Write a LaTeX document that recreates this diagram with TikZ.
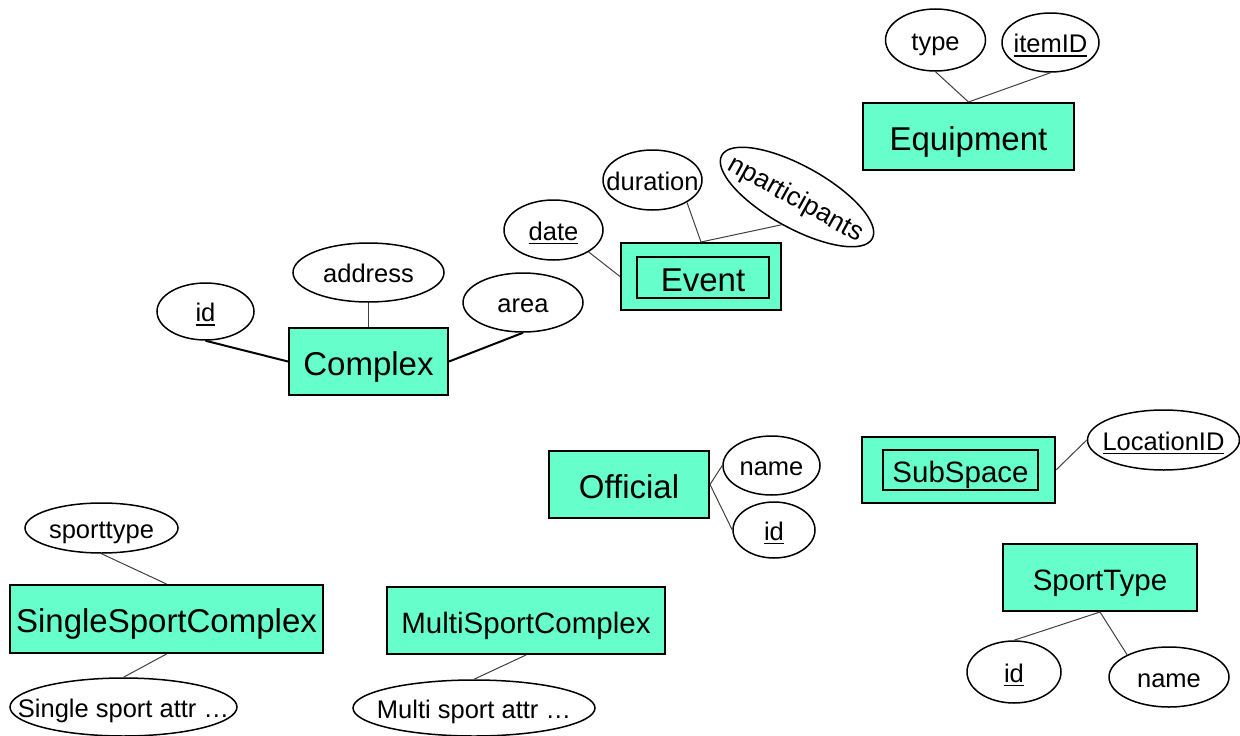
\documentclass[tikz,border=0pt]{standalone}
\usepackage{fontspec}
\setmainfont{Liberation Sans}
\usetikzlibrary{shapes.geometric}
\definecolor{entfill}{HTML}{66FFCC}
% key attribute: text with a thick underline
\newcommand\keyattr[1]{\setbox0\hbox{#1}\rlap{\rule[-4.4pt]{\wd0}{1.6pt}}\box0}
% label that does not widen its ellipse
\newcommand\lbl[1]{\makebox[0pt][c]{#1}}
\begin{document}
\begin{tikzpicture}[x=1pt,y=-1pt,
  entity/.style={draw=black, line width=2pt, fill=entfill, rectangle, inner sep=0pt,
    font=\fontsize{33}{39}\selectfont, text height=27.5pt, text depth=0pt},
  entitysm/.style={entity, font=\fontsize{29.5}{35}\selectfont, text height=25pt, text depth=0pt},
  weakin/.style={draw=black, line width=1.5pt, rectangle, inner sep=0pt},
  attr/.style={draw=black, line width=1.5pt, fill=white, ellipse, inner sep=0pt,
    font=\fontsize{25.5}{30}\selectfont, text height=20pt, text depth=0pt},
  link/.style={draw=black!75, line width=1pt},
  boldlink/.style={draw=black, line width=2pt}]

\useasboundingbox (0,0) rectangle (1240,736);

% Equipment
\node[entity, minimum width=211pt, minimum height=67pt] (equip) at (968.5,136.5) {Equipment};
\node[attr, minimum width=100pt, minimum height=62pt] (type) at (935.5,40) {\lbl{type}};
\node[attr, minimum width=97pt, minimum height=59pt] (itemid) at (1050.5,42.5) {\lbl{\keyattr{itemID}}};

% Event (weak entity)
\node[entity, minimum width=160pt, minimum height=67pt] (event) at (701,276.5) {};
\node[weakin, minimum width=132pt, minimum height=41pt, font=\fontsize{33}{39}\selectfont,
  text height=27.5pt, text depth=0pt] (eventin) at (703,277.5) {Event};
\node[attr, minimum width=99pt, minimum height=60pt] (duration) at (652.5,180) {\lbl{duration}};
\node[attr, minimum width=99pt, minimum height=60pt] (date) at (553.5,230) {\lbl{\keyattr{date}}};
\node[attr, minimum width=172pt, minimum height=62pt, rotate=-29,
  font=\fontsize{26.5}{31}\selectfont, text height=20pt] (npart) at (797,197) {\lbl{nparticipants}};

% Complex
\node[entity, minimum width=159pt, minimum height=67pt] (complex) at (368.5,361.5) {Complex};
\node[attr, minimum width=97pt, minimum height=57pt] (cid) at (205.5,311.5) {\lbl{\keyattr{id}}};
\node[attr, minimum width=151pt, minimum height=59pt] (address) at (368.5,272.5) {\lbl{address}};
\node[attr, minimum width=120pt, minimum height=59pt] (area) at (523,302.5) {\lbl{area}};

% Official
\node[entity, minimum width=160pt, minimum height=67pt] (official) at (629,484.5) {Official};
\node[attr, minimum width=97pt, minimum height=59pt] (offname) at (771.5,465.5) {\lbl{name}};
\node[attr, minimum width=82pt, minimum height=56pt] (offid) at (774,530) {\lbl{\keyattr{id}}};

% SubSpace (weak entity)
\node[entity, minimum width=193pt, minimum height=66pt] (subspace) at (958.5,470) {};
\node[weakin, minimum width=155pt, minimum height=40pt, font=\fontsize{29.5}{35}\selectfont,
  text height=25pt, text depth=0pt] (subspacein) at (960.5,470) {SubSpace};
\node[attr, minimum width=152pt, minimum height=60pt] (locid) at (1163.5,440) {\lbl{\keyattr{LocationID}}};

% SingleSportComplex
\node[entity, minimum width=313pt, minimum height=68pt] (single) at (166.5,619) {SingleSportComplex};
\node[attr, minimum width=153pt, minimum height=50pt] (sporttype) at (101.5,528) {\lbl{sporttype}};
\node[attr, minimum width=227pt, minimum height=58pt] (ssattr) at (123.5,707) {\lbl{Single sport attr …}};

% MultiSportComplex
\node[entitysm, minimum width=278pt, minimum height=67pt] (multi) at (526,620.5) {MultiSportComplex};
\node[attr, minimum width=242pt, minimum height=56pt] (msattr) at (474,708) {\lbl{Multi sport attr …}};

% SportType
\node[entitysm, minimum width=194pt, minimum height=67pt] (sportt) at (1100,577.5) {SportType};
\node[attr, minimum width=94pt, minimum height=62pt] (stid) at (1014,672) {\lbl{\keyattr{id}}};
\node[attr, minimum width=120pt, minimum height=60pt] (stname) at (1169,677) {\lbl{name}};

% connectors
\draw[link] (type.south) -- (equip.north);
\draw[link] (itemid.south) -- (equip.north);
\draw[link] (duration.-33) -- (event.north);
\draw[link] (npart.south) -- (event.north);
\draw[link] (date.-32) -- (event.west);
\draw[boldlink] (cid.south) -- (complex.west);
\draw[link] (address.south) -- (complex.north);
\draw[boldlink] (area.south) -- (complex.east);
\draw[link] (official.east) -- (offname.west);
\draw[link] (official.east) -- (offid.west);
\draw[link] (subspace.east) -- (locid.west);
\draw[link] (sporttype.south) -- (single.north);
\draw[link] (single.south) -- (ssattr.north);
\draw[link] (multi.south) -- (msattr.north);
\draw[link] (sportt.south) -- (stid.north);
\draw[link] (sportt.south) -- (stname.152);
\end{tikzpicture}
\end{document}
